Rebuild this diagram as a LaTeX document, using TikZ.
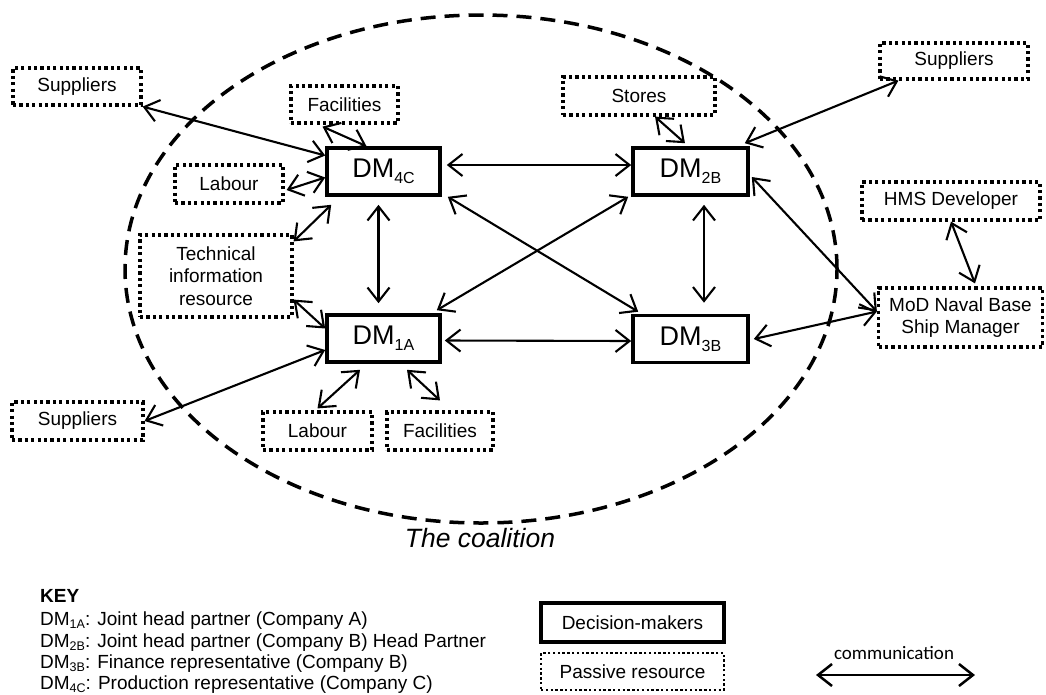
\documentclass[tikz,border=0pt]{standalone}
\usepackage{fontspec}
\setmainfont{Liberation Sans}
\newfontfamily\commfont{Carlito}
\usetikzlibrary{arrows.meta}
% subscripted decision-maker labels
\newcommand\dmbox[1]{DM\raisebox{-0.22em}{\fontsize{16}{16}\selectfont #1}}
\newcommand\dmkey[1]{DM\raisebox{-0.2em}{\fontsize{12.5}{12.5}\selectfont #1}}
\begin{document}
\begin{tikzpicture}[x=1pt,y={(0pt,-1pt)},
  every node/.style={font=\fontsize{19}{22.5}\selectfont, inner sep=0pt, align=center},
  passive/.style={draw, fill=white, line width=3.2pt, dash pattern=on 3.2pt off 3.2pt},
  decider/.style={draw, fill=white, line width=3.6pt, minimum width=113pt, minimum height=47pt,
                  font=\fontsize{27}{27}\selectfont},
  comm/.style={line width=2.1pt, {Straight Barb[length=14pt,width=22pt]}-{Straight Barb[length=14pt,width=22pt]}},
  keytext/.style={anchor=base west, font=\fontsize{19}{22}\selectfont}]
\useasboundingbox (0,0) rectangle (1046,694);

% the coalition boundary
\draw[line width=3.5pt, dash pattern=on 15pt off 9pt] (481,269) ellipse [x radius=356pt, y radius=254pt];
\node (coal) [font=\fontsize{26.5}{26.5}\selectfont\itshape, anchor=base] at (480,547) {The coalition};

% decision-makers
\node[decider] (dm4c) at (383.5,171.5) {\dmbox{4C}};
\node[decider] (dm1a) at (383.5,338.5) {\dmbox{1A}};
\node[decider, minimum width=115pt] (dm2b) at (690.5,171.5) {\dmbox{2B}};
\node[decider, minimum width=115pt] (dm3b) at (690.5,339) {\dmbox{3B}};

% passive resources
\node[passive, minimum width=128pt, minimum height=37pt] (supTL) at (77,86.5) {Suppliers};
\node[passive, minimum width=107pt, minimum height=37pt] (facT) at (344.5,104.5) {Facilities};
\node[passive, minimum width=108pt, minimum height=38pt] (labL) at (229,184) {Labour};
\node[passive, minimum width=152pt, minimum height=82pt] (tech) at (216,276) {Technical\\information\\resource};
\node[passive, minimum width=152pt, minimum height=38pt] (stores) at (639,96) {Stores};
\node[passive, minimum width=148pt, minimum height=36pt] (supTR) at (954,61) {Suppliers};
\node[passive, minimum width=178pt, minimum height=38pt] (hms) at (951,201) {HMS Developer};
\node[passive, minimum width=164pt, minimum height=59pt, font=\fontsize{19}{21.7}\selectfont] (mod) at (960.5,317.5) {MoD Naval Base\\Ship Manager};
\node[passive, minimum width=109pt, minimum height=38pt] (labB) at (317.5,431) {Labour};
\node[passive, minimum width=106pt, minimum height=38pt] (facB) at (440,431) {Facilities};
\node[passive, minimum width=131pt, minimum height=38pt] (supBL) at (77.5,421) {Suppliers};

% communication links
\draw[comm] (supTL.south east) -- ([yshift=16pt]dm4c.west);
\draw[comm] ([xshift=-22pt,yshift=-2pt]facT.south) -- ([xshift=-17pt]dm4c.north);
\draw[comm] ([xshift=2pt,yshift=-6pt]labL.east) -- ([yshift=-6pt]dm4c.west);
\draw[comm] ([yshift=-8pt]tech.north east) -- ([xshift=6pt,yshift=-8pt]dm4c.south west);
\draw[comm] ([yshift=19pt]tech.south east) -- ([yshift=10pt]dm1a.west);
\draw[comm] ([xshift=-5pt,yshift=-8pt]dm4c.south) -- ([xshift=-5pt,yshift=10pt]dm1a.north);
\draw[comm] ([xshift=5pt,yshift=6.5pt]dm4c.east) -- ([yshift=6.5pt]dm2b.west);
\draw[comm] ([xshift=6pt]dm4c.south east) -- ([xshift=7pt,yshift=2pt]dm3b.north west);
\draw[comm] ([xshift=-5pt,yshift=3pt]dm1a.north east) -- ([xshift=-3pt]dm2b.south west);
\draw[comm] ([xshift=3pt,yshift=-2pt]dm1a.east) -- ([yshift=-2pt]dm3b.west);
\draw[comm] ([xshift=13.5pt,yshift=-8pt]dm2b.south) -- ([xshift=13.5pt,yshift=11pt]dm3b.north);
\draw[comm] ([xshift=16pt]stores.south) -- ([xshift=-5.5pt,yshift=3pt]dm2b.north);
\draw[comm] ([xshift=-5pt,yshift=3pt]dm2b.north east) -- ([xshift=20pt]supTR.south west);
\draw[comm] ([xshift=2pt,yshift=-5.5pt]dm2b.east) -- ([yshift=6pt]mod.west);
\draw[comm] ([xshift=4pt]dm3b.east) -- ([yshift=6pt]mod.west);
\draw[comm] (hms.south) -- ([xshift=14.5pt,yshift=3pt]mod.north);
\draw[comm] ([xshift=-23.5pt,yshift=-6pt]dm1a.south) -- ([yshift=2pt]labB.north);
\draw[comm] ([xshift=23.5pt,yshift=-6pt]dm1a.south) -- ([yshift=10pt]facB.north);
\draw[comm] (supBL.east) -- ([yshift=-11.5pt]dm1a.west);

% key
\node[keytext, font=\fontsize{19}{22}\selectfont\bfseries] (keyhead) at (40,602) {KEY};
\node[keytext] (key1) at (40,625) {\dmkey{1A}: Joint head partner (Company A)};
\node[keytext] (key2) at (40,647) {\dmkey{2B}: Joint head partner (Company B) Head Partner};
\node[keytext] (key3) at (40,668) {\dmkey{3B}: Finance representative (Company B)};
\node[keytext] (key4) at (40,689) {\dmkey{4C}: Production representative (Company C)};

\node[draw, fill=white, line width=3.6pt, minimum width=183pt, minimum height=39pt] (keydm) at (632.5,622.5) {Decision-makers};
\node[passive, line width=2.4pt, dash pattern=on 2.4pt off 2.4pt, minimum width=183pt, minimum height=37pt] (keypass) at (632.5,671.5) {Passive resource};

\node[font=\fontsize{19}{19}\commfont] (commtxt) at (894,653) {communication};
\coordinate (commL) at (816,675);
\coordinate (commR) at (975,675);
\draw[comm, line width=2.5pt] (commL) -- (commR);
\end{tikzpicture}
\end{document}
